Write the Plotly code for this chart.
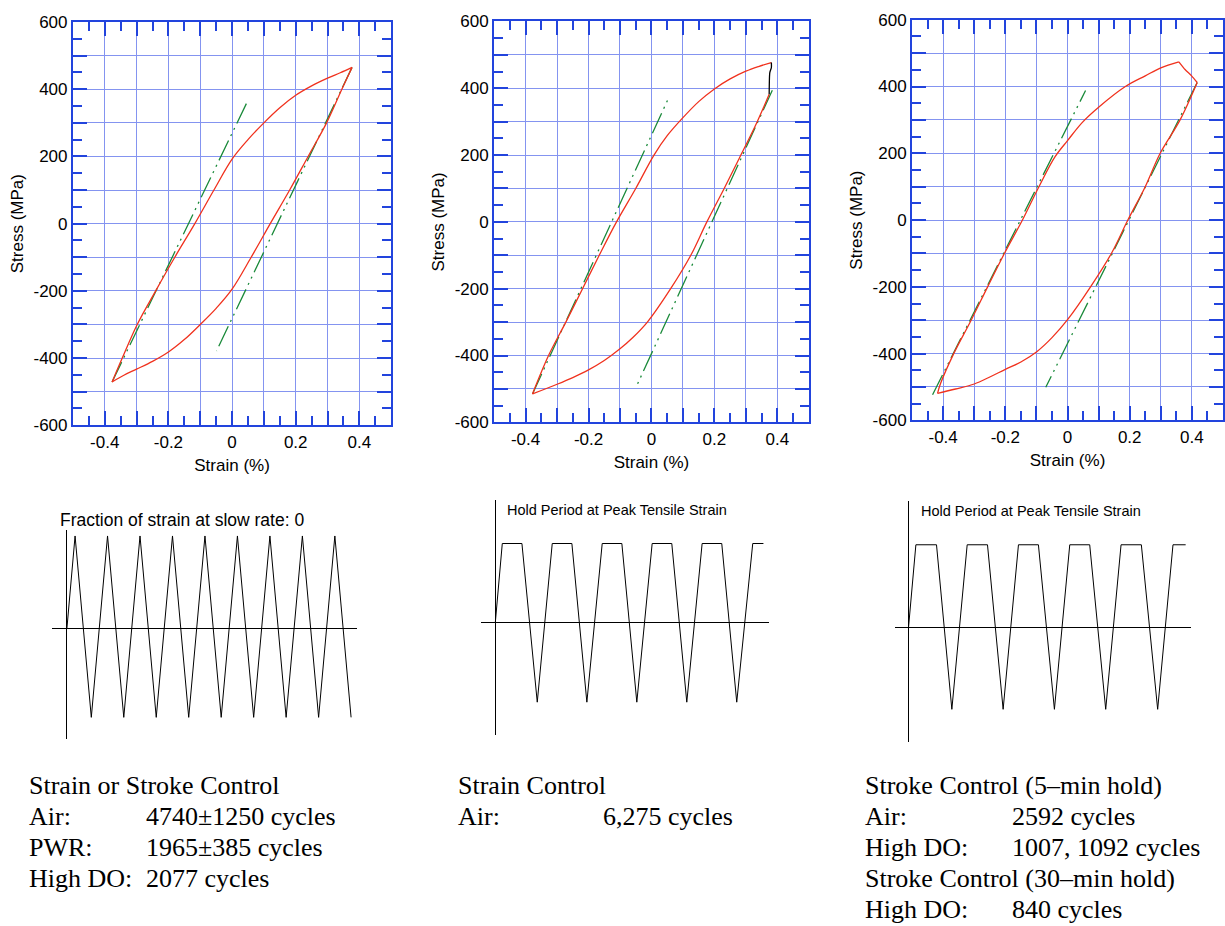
import plotly.graph_objects as go

W, H = 1225, 926

# ---------------- data ----------------
X_TICKS = [-0.5, -0.4, -0.3, -0.2, -0.1, 0.0, 0.1, 0.2, 0.3, 0.4, 0.5]
X_LABELS = ["", "-0.4", "", "-0.2", "", "0", "", "0.2", "", "0.4", ""]
X_MINOR = [-0.45, -0.35, -0.25, -0.15, -0.05, 0.05, 0.15, 0.25, 0.35, 0.45]
Y_TICKS = [-600, -500, -400, -300, -200, -100, 0, 100, 200, 300, 400, 500, 600]
Y_LABELS = ["-600", "", "-400", "", "-200", "", "0", "", "200", "", "400", "", "600"]
Y_MINOR = [-550, -450, -350, -250, -150, -50, 50, 150, 250, 350, 450, 550]

# Panel 1 (strain/stroke control, no hold)
p1_load_x = [-0.377, -0.345, -0.298, -0.240, -0.180, -0.117, -0.057, 0.0, 0.05, 0.10, 0.15, 0.20, 0.25, 0.30, 0.34, 0.377]
p1_load_y = [-471, -400, -300, -200, -100, 0, 100, 192, 250, 300, 345, 382, 410, 433, 449, 465]
p1_unl_x = [0.377, 0.345, 0.297, 0.239, 0.181, 0.120, 0.060, 0.0, -0.05, -0.10, -0.15, -0.20, -0.25, -0.30, -0.34, -0.377]
p1_unl_y = [465, 400, 300, 200, 100, 0, -100, -195, -252, -300, -345, -382, -410, -433, -451, -471]
p1_el1_x = [-0.377, 0.050]
p1_el1_y = [-471, 367]
p1_el2_x = [0.377, -0.049]
p1_el2_y = [465, -379]

# Panel 2 (strain control, hold at peak tensile strain)
p2_load_x = [-0.378, -0.327, -0.272, -0.219, -0.166, -0.111, -0.050, 0.008, 0.05, 0.10, 0.15, 0.20, 0.25, 0.30, 0.34, 0.381]
p2_load_y = [-515, -400, -300, -200, -100, 0, 100, 200, 258, 312, 360, 398, 428, 451, 465, 477]
p2_hold_x = [0.381, 0.381, 0.376, 0.374]
p2_hold_y = [477, 462, 447, 382]
p2_unl_x = [0.374, 0.336, 0.284, 0.231, 0.176, 0.125, 0.061, -0.013, -0.06, -0.10, -0.15, -0.20, -0.25, -0.30, -0.378]
p2_unl_y = [382, 300, 200, 100, 0, -100, -200, -300, -347, -380, -415, -443, -466, -486, -515]
p2_el1_x = [-0.378, 0.056]
p2_el1_y = [-515, 374]
p2_el2_x = [0.384, -0.050]
p2_el2_y = [394, -497]

# Panel 3 (stroke control, hold)
p3_load_x = [-0.418, -0.409, -0.366, -0.310, -0.257, -0.203, -0.145, -0.092, -0.04, 0.0, 0.047, 0.10, 0.186, 0.25, 0.30, 0.358]
p3_load_y = [-519, -491, -400, -300, -200, -100, 0, 100, 190, 238, 292, 338, 400, 432, 456, 474]
p3_hold_x = [0.358, 0.378, 0.399, 0.417]
p3_hold_y = [474, 451, 432, 412]
p3_unl_x = [0.417, 0.362, 0.298, 0.250, 0.194, 0.141, 0.074, 0.002, -0.05, -0.10, -0.15, -0.20, -0.25, -0.30, -0.36, -0.418]
p3_unl_y = [412, 300, 200, 100, 0, -100, -200, -296, -352, -395, -425, -447, -470, -491, -506, -519]
p3_el1_x = [-0.434, 0.058]
p3_el1_y = [-523, 388]
p3_el2_x = [0.417, -0.070]
p3_el2_y = [412, -501]

# Waveforms (time in cycles, normalised strain)
w1_t = [0, 0.25, 0.75, 1.25, 1.75, 2.25, 2.75, 3.25, 3.75, 4.25, 4.75, 5.25, 5.75, 6.25, 6.75, 7.25, 7.75, 8.25, 8.75]
w1_e = [0, 1, -0.97, 1, -0.97, 1, -0.97, 1, -0.97, 1, -0.97, 1, -0.97, 1, -0.97, 1, -0.97, 1, -0.97]
w2_t = [0, 0.14, 0.533, 0.84, 1.14, 1.533, 1.833, 2.14, 2.533, 2.833, 3.14, 3.533, 3.833, 4.14, 4.533, 4.833, 5.153, 5.367]
w2_e = [0, 1, 1, -1, 1, 1, -1, 1, 1, -1, 1, 1, -1, 1, 1, -1, 1, 1]
w3_t = [0, 0.143, 0.545, 0.844, 1.143, 1.539, 1.844, 2.143, 2.532, 2.844, 3.143, 3.532, 3.844, 4.143, 4.539, 4.857, 5.156, 5.403]
w3_e = [0, 1, 1, -1, 1, 1, -1, 1, 1, -1, 1, 1, -1, 1, 1, -1, 1, 1]

wave_titles = ["Fraction of strain at slow rate: 0",
               "Hold Period at Peak Tensile Strain",
               "Hold Period at Peak Tensile Strain"]

text1_lines = [("Strain or Stroke Control", ""), ("Air:", "4740±1250 cycles"),
               ("PWR:", "1965±385 cycles"), ("High DO:", "2077 cycles")]
text2_lines = [("Strain Control", ""), ("Air:", "6,275 cycles")]
text3_lines = [("Stroke Control (5–min hold)", ""), ("Air:", "2592 cycles"),
               ("High DO:", "1007, 1092 cycles"), ("Stroke Control (30–min hold)", ""),
               ("High DO:", "840 cycles")]

# ---------------- style ----------------
BLUE = "#2244dd"
GRID = "#8494f0"
RED = "#f0321e"
GREEN = "#1a8a3a"
SANS = "Liberation Sans, Arial, sans-serif"
SERIF = "Liberation Serif, Times New Roman, serif"


def dx(a, b):
    return [a / W, b / W]


def dy(top, bottom):
    return [1 - bottom / H, 1 - top / H]


fig = go.Figure()

panels = [
    (p1_load_x, p1_load_y, p1_unl_x, p1_unl_y, None, None, "black", p1_el1_x, p1_el1_y, p1_el2_x, p1_el2_y),
    (p2_load_x, p2_load_y, p2_unl_x, p2_unl_y, p2_hold_x, p2_hold_y, "black", p2_el1_x, p2_el1_y, p2_el2_x, p2_el2_y),
    (p3_load_x, p3_load_y, p3_unl_x, p3_unl_y, p3_hold_x, p3_hold_y, RED, p3_el1_x, p3_el1_y, p3_el2_x, p3_el2_y),
]
dash = "22px,5px,2px,5px,2px,5px"
for i, (lx, ly, ux, uy, hx_, hy_, hc, e1x, e1y, e2x, e2y) in enumerate(panels):
    xa = "x" if i == 0 else f"x{i+1}"
    ya = "y" if i == 0 else f"y{i+1}"
    for ex, ey in ((e1x, e1y), (e2x, e2y)):
        fig.add_trace(go.Scatter(x=ex, y=ey, mode="lines", xaxis=xa, yaxis=ya,
                                 line=dict(color=GREEN, width=1.3, dash=dash), showlegend=False))
    for cx, cy in ((lx, ly), (ux, uy)):
        fig.add_trace(go.Scatter(x=cx, y=cy, mode="lines", xaxis=xa, yaxis=ya,
                                 line=dict(color=RED, width=1.3, shape="spline", smoothing=1.0),
                                 showlegend=False))
    if hx_ is not None:
        fig.add_trace(go.Scatter(x=hx_, y=hy_, mode="lines", xaxis=xa, yaxis=ya,
                                 line=dict(color=hc, width=1.3, shape="spline", smoothing=0.6),
                                 showlegend=False))

waves = [(w1_t, w1_e), (w2_t, w2_e), (w3_t, w3_e)]
for i, (t, e) in enumerate(waves):
    fig.add_trace(go.Scatter(x=t, y=e, mode="lines", xaxis=f"x{i+4}", yaxis=f"y{i+4}",
                             line=dict(color="black", width=1), showlegend=False))


def hyst_x(domain, anchor):
    return dict(domain=domain, anchor=anchor, range=[-0.5, 0.5],
                tickmode="array", tickvals=X_TICKS, ticktext=X_LABELS,
                ticks="inside", ticklen=14, tickwidth=1.5, tickcolor=BLUE,
                showline=True, linecolor=BLUE, linewidth=2, mirror="ticks",
                showgrid=True, gridcolor=GRID, gridwidth=1,
                zeroline=False,
                minor=dict(tickmode="array", tickvals=X_MINOR, ticks="inside", ticklen=9,
                           tickwidth=1.5, tickcolor=BLUE, showgrid=False),
                tickfont=dict(family=SANS, size=17, color="black"),
                title=dict(text="Strain (%)", font=dict(family=SANS, size=17, color="black"), standoff=8))


def hyst_y(domain, anchor):
    return dict(domain=domain, anchor=anchor, range=[-600, 600],
                tickmode="array", tickvals=Y_TICKS, ticktext=Y_LABELS,
                ticks="inside", ticklen=14, tickwidth=1.5, tickcolor=BLUE,
                showline=True, linecolor=BLUE, linewidth=2, mirror="ticks",
                showgrid=True, gridcolor=GRID, gridwidth=1,
                zeroline=False,
                minor=dict(tickmode="array", tickvals=Y_MINOR, ticks="inside", ticklen=9,
                           tickwidth=1.5, tickcolor=BLUE, showgrid=False),
                tickfont=dict(family=SANS, size=17, color="black"),
                title=dict(text="Stress (MPa)", font=dict(family=SANS, size=17, color="black"), standoff=6))


def wave_axis(domain, anchor, rng):
    return dict(domain=domain, anchor=anchor, range=rng, showgrid=False, showticklabels=False,
                ticks="", showline=False, zeroline=True, zerolinecolor="black", zerolinewidth=1)


layout = dict(
    width=W, height=H, margin=dict(l=0, r=0, t=0, b=0),
    paper_bgcolor="white", plot_bgcolor="white", showlegend=False,
    xaxis=hyst_x(dx(73, 391.5), "y"), yaxis=hyst_y(dy(13.3, 425), "x"),
    xaxis2=hyst_x(dx(494.5, 809.5), "y2"), yaxis2=hyst_y(dy(12.7, 422), "x2"),
    xaxis3=hyst_x(dx(912.8, 1224), "y3"), yaxis3=hyst_y(dy(11, 420), "x3"),
    xaxis4=wave_axis(dx(52, 357), "y4", [-15 / 32.5, 290 / 32.5]),
    yaxis4=wave_axis(dy(532, 745), "x4", [-113 / 94, 100 / 94]),
    xaxis5=wave_axis(dx(481.7, 770), "y5", [-14 / 50, 274.3 / 50]),
    yaxis5=wave_axis(dy(501.7, 740.7), "x5", [-114 / 81, 125 / 81]),
    xaxis6=wave_axis(dx(896, 1192.3), "y6", [-13.3 / 51.33, 283 / 51.33]),
    yaxis6=wave_axis(dy(502.7, 748.3), "x6", [-117.3 / 84, 128.3 / 84]),
)
fig.update_layout(**layout)

ann = []
# waveform captions
for (xl, yc, size), txt in zip([(58, 522, 17.5), (505.7, 512, 14.5), (920, 513, 14.5)], wave_titles):
    ann.append(dict(x=xl / W, y=1 - yc / H, xref="paper", yref="paper", text=txt, showarrow=False,
                    xanchor="left", yanchor="middle", font=dict(family=SANS, size=size, color="black")))

# bottom text blocks
blocks = [(text1_lines, 27, 144, [793, 824.5, 856, 887.5]),
          (text2_lines, 456.7, 601.7, [793, 824.5]),
          (text3_lines, 864, 1010.5, [793, 824.5, 856, 887.5, 919])]
for lines, x1, x2, centers in blocks:
    for (a, b), yc in zip(lines, centers):
        ann.append(dict(x=x1 / W, y=1 - yc / H, xref="paper", yref="paper", text=a, showarrow=False,
                        xanchor="left", yanchor="middle", font=dict(family=SERIF, size=26, color="black")))
        if b:
            ann.append(dict(x=x2 / W, y=1 - yc / H, xref="paper", yref="paper", text=b, showarrow=False,
                            xanchor="left", yanchor="middle", font=dict(family=SERIF, size=26, color="black")))
fig.update_layout(annotations=ann)

fig.write_html("out.html")
